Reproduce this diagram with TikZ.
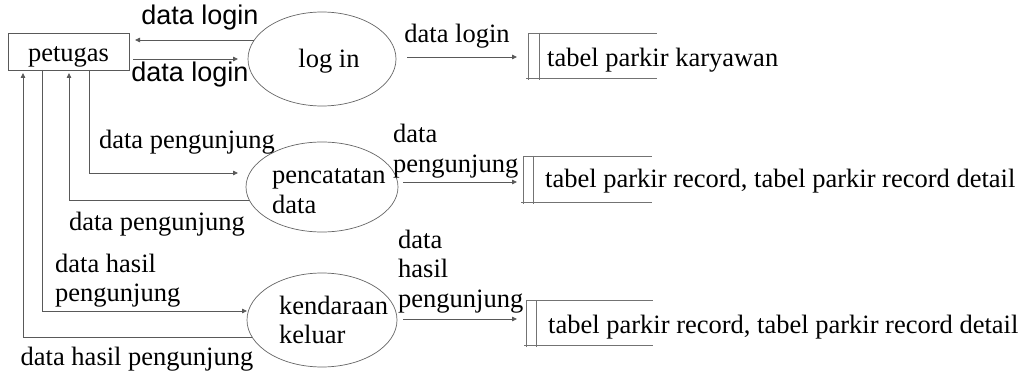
\documentclass[tikz,border=0pt]{standalone}
\usepackage{fontspec}
\setmainfont{Liberation Serif}
\newfontfamily\sansf{Liberation Sans}
\usetikzlibrary{arrows.meta,shapes.geometric}
\begin{document}
\begin{tikzpicture}[x=1pt,y=-1pt,
  lbl/.style={font=\fontsize{26.5}{29.5}\selectfont, inner sep=0pt, anchor=base west},
  slbl/.style={font=\sansf\fontsize{27}{30}\selectfont, inner sep=0pt, anchor=base},
  proc/.style={draw=black!60, line width=0.7pt, ellipse, inner sep=0pt},
  flow/.style={draw=black!65, line width=0.8pt},
  arr/.style={flow, -{Triangle[length=5pt,width=4.5pt]}},
  storeline/.style={draw=black!55, line width=0.8pt},
]
\useasboundingbox[fill=white] (0,0) rectangle (1036,374);

% external entity
\node[draw=black!65, line width=0.8pt, inner sep=0pt, minimum width=121pt,
      text height=29pt, text depth=8pt, anchor=base,
      font=\fontsize{26.5}{29.5}\selectfont] (petugas) at (68.5,62) {petugas};

% processes
\node[proc, minimum width=148pt, minimum height=94pt] (login) at (322,59) {};
\node[proc, minimum width=152pt, minimum height=90pt] (pencat) at (322,187) {};
\node[proc, minimum width=150pt, minimum height=94pt] (kend) at (322,320) {};
\node[lbl, anchor=base] (tlogin) at (329,68) {log in};
\node[lbl] (tpencat) at (272,184) {\vtop{\hbox{pencatatan}\hbox{data}}};
\node[lbl] (tkend) at (279,314) {\vtop{\hbox{kendaraan}\hbox{keluar}}};

% data stores
\node[lbl] (ds1) at (547,67) {tabel parkir karyawan};
\draw[storeline] (528,80) -- (528,33) -- (657,33);
\draw[storeline] (526,78) -- (657,78);
\draw[storeline] (539,33) -- (539,80);

\node[lbl] (ds2) at (545,188) {tabel parkir record, tabel parkir record detail};
\draw[storeline] (523,204) -- (523,156) -- (652,156);
\draw[storeline] (521,202) -- (652,202);
\draw[storeline] (533,156) -- (533,204);

\node[lbl] (ds3) at (548,333) {tabel parkir record, tabel parkir record detail};
\draw[storeline] (526,347) -- (526,300) -- (653,300);
\draw[storeline] (524,345) -- (653,345);
\draw[storeline] (536,300) -- (536,347);

% connector end points
\coordinate (a1) at (254,40);
\coordinate (a2) at (135,40);
\coordinate (b1) at (133,59);
\coordinate (b2) at (238,59);
\coordinate (c1) at (407,57);
\coordinate (c2) at (517,57);
\coordinate (d1) at (89,70);
\coordinate (d2) at (89,173);
\coordinate (d3) at (238,173);
\coordinate (e1) at (249,200);
\coordinate (e2) at (69,200);
\coordinate (e3) at (69,73);
\coordinate (f1) at (403,182);
\coordinate (f2) at (517,182);
\coordinate (g1) at (42,70);
\coordinate (g2) at (42,311);
\coordinate (g3) at (247,311);
\coordinate (h1) at (252,337);
\coordinate (h2) at (23,337);
\coordinate (h3) at (23,73);
\coordinate (i1) at (403,319);
\coordinate (i2) at (517,319);

% flows
\draw[arr] (a1) -- (a2);
\draw[arr] (b1) -- (b2);
\draw[arr] (c1) -- (c2);
\draw[arr] (d1) -- (d2) -- (d3);
\draw[arr] (e1) -- (e2) -- (e3);
\draw[arr] (f1) -- (f2);
\draw[arr] (g1) -- (g2) -- (g3);
\draw[arr] (h1) -- (h2) -- (h3);
\draw[arr] (i1) -- (i2);

% flow labels
\node[slbl] (l1) at (200,25) {data login};
\node[slbl] (l2) at (190,82) {data login};
\node[lbl, anchor=base] (l3) at (457,43) {data login};
\node[lbl, anchor=base] (l4) at (187,149) {data pengunjung};
\node[lbl, anchor=base] (l5) at (157,231) {data pengunjung};
\node[lbl] (l6) at (393,143) {\vtop{\hbox{data}\hbox{pengunjung}}};
\node[lbl] (l7) at (55,272) {\vtop{\hbox{data hasil}\hbox{pengunjung}}};
\node[lbl, anchor=base] (l8) at (137,365) {data hasil pengunjung};
\node[lbl] (l9) at (398,248) {\vtop{\hbox{data}\hbox{hasil}\hbox{pengunjung}}};
\end{tikzpicture}
\end{document}
